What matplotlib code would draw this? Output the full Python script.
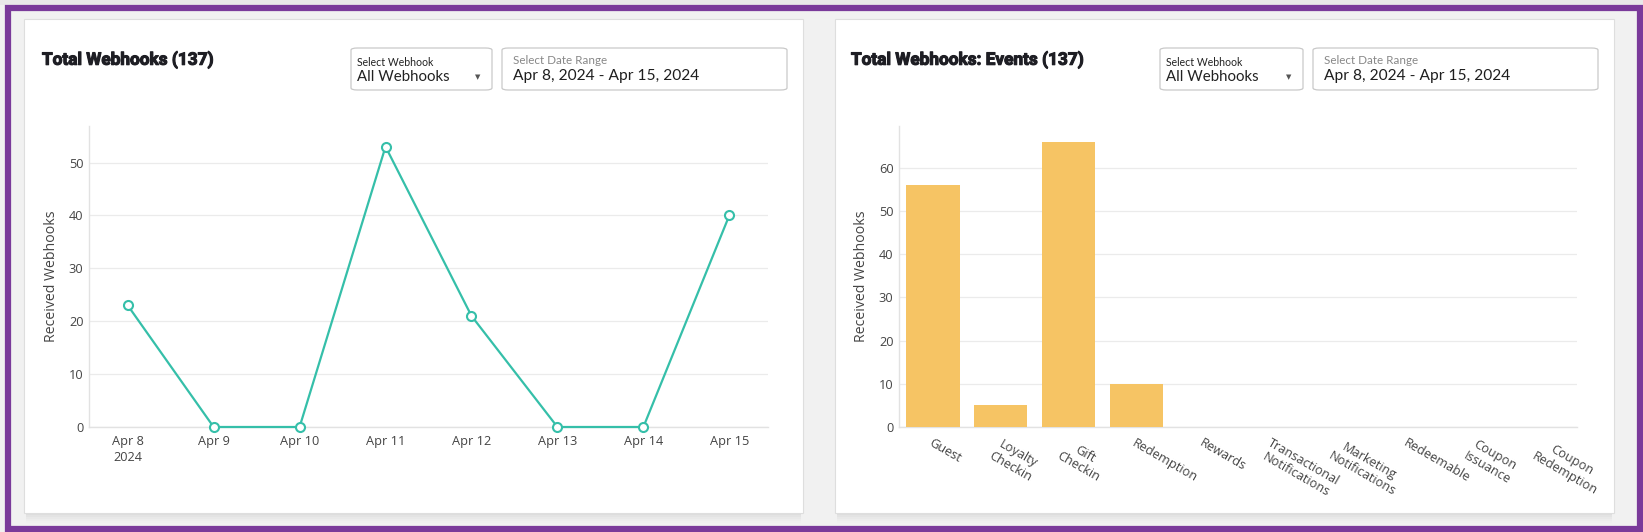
import matplotlib
matplotlib.use("Agg")
import matplotlib.pyplot as plt
import matplotlib.patheffects as pe
from matplotlib.patches import FancyBboxPatch, Rectangle

# ---------------- data ----------------
line_dates = ["Apr 8\n2024", "Apr 9", "Apr 10", "Apr 11", "Apr 12", "Apr 13", "Apr 14", "Apr 15"]
line_values = [23, 0, 0, 53, 21, 0, 0, 40]

event_categories = ["Guest", "Loyalty\nCheckin", "Gift\nCheckin", "Redemption", "Rewards",
                    "Transactional\nNotifications", "Marketing\nNotifications", "Redeemable",
                    "Coupon\nIssuance", "Coupon\nRedemption"]
event_values = [56, 5, 66, 10, 0, 0, 0, 0, 0, 0]

left_title = "Total Webhooks (137)"
right_title = "Total Webhooks: Events (137)"
y_label = "Received Webhooks"
select_label = "Select Webhook"
select_value = "All Webhooks"
date_label = "Select Date Range"
date_value = "Apr 8, 2024 - Apr 15, 2024"

# ---------------- style ----------------
W, H = 1643, 532
LINE_C = "#35bfa9"
BAR_C = "#f6c464"
PURPLE = "#7a3a9a"
BG = "#f1f1f1"
GRID = "#ebebeb"
AXLINE = "#e2e2e2"
TXT = "#444444"
FONT = ["Open Sans", "DejaVu Sans"]
UI_FONT = ["Lato", "DejaVu Sans"]

plt.rcParams["font.family"] = FONT

fig = plt.figure(figsize=(W / 100, H / 100), dpi=100)
fig.patch.set_facecolor(BG)


def fx(x):
    return x / W


def fy(y):
    return 1 - y / H


def rect(x0, y0, x1, y1):
    return [fx(x0), fy(y1), fx(x1) - fx(x0), fy(y0) - fy(y1)]


# top gray strip above purple frame
fig.patches.append(Rectangle((0, fy(5)), 1, 1 - fy(5), transform=fig.transFigure,
                             facecolor="#e9e9e9", edgecolor="none", zorder=0))
# purple frame
fig.patches.append(Rectangle((fx(8), fy(529)), fx(1632), fy(8) - fy(529),
                             transform=fig.transFigure, facecolor="none",
                             edgecolor=PURPLE, linewidth=4.5, zorder=10))


def card(x0, y0, x1, y1):
    # soft shadow
    for i, a in enumerate([0.025, 0.02, 0.016, 0.012, 0.008]):
        off = 2 + i * 2
        fig.patches.append(FancyBboxPatch((fx(x0 + 2), fy(y1 + off)),
                                          fx(x1 - x0 - 4), fy(y0 + off) - fy(y1 + off),
                                          boxstyle="square,pad=0", transform=fig.transFigure,
                                          facecolor="black", alpha=a, edgecolor="none", zorder=1))
    fig.patches.append(FancyBboxPatch((fx(x0), fy(y1)), fx(x1 - x0), fy(y0) - fy(y1),
                                      boxstyle="square,pad=0", transform=fig.transFigure,
                                      facecolor="white", edgecolor="#dedede", linewidth=0.8, zorder=2))


def box(x0, y0, x1, y1):
    fig.patches.append(FancyBboxPatch((fx(x0), fy(y1)), fx(x1 - x0), fy(y0) - fy(y1),
                                      boxstyle="round,pad=0,rounding_size=0.004",
                                      transform=fig.transFigure, facecolor="white",
                                      edgecolor="#c9c9c9", linewidth=0.9, zorder=3))


def header(cx, title, sel_x0, sel_x1, date_x0, date_x1):
    t = fig.text(fx(cx), fy(60), title, fontsize=12.4, fontweight="bold", color="#1e1e24",
                 va="center", ha="left", family=["Roboto", "DejaVu Sans"], zorder=5)
    t.set_path_effects([pe.withStroke(linewidth=0.8, foreground="#1e1e24")])
    box(sel_x0, 48, sel_x1, 90)
    fig.text(fx(sel_x0 + 6), fy(62), select_label, fontsize=7.6, color="#222222",
             va="center", ha="left", family=UI_FONT, zorder=5)
    fig.text(fx(sel_x0 + 6), fy(77), select_value, fontsize=10.8, color="#222222",
             va="center", ha="left", family=UI_FONT, zorder=5)
    fig.text(fx(sel_x1 - 14), fy(77), "\u25BC", fontsize=5, color="#555555",
             va="center", ha="center", family=["DejaVu Sans"], zorder=5)
    box(date_x0, 48, date_x1, 90)
    fig.text(fx(date_x0 + 11), fy(61), date_label, fontsize=8.4, color="#888888",
             va="center", ha="left", family=UI_FONT, zorder=5)
    fig.text(fx(date_x0 + 11), fy(76), date_value, fontsize=11.2, color="#1e1e1e",
             va="center", ha="left", family=UI_FONT, zorder=5)


card(24, 19, 803, 513)
card(835, 19, 1614, 513)
header(42, left_title, 351, 492, 502, 787)
header(851, right_title, 1160, 1303, 1313, 1598)


def style_axes(ax):
    ax.set_facecolor("white")
    for s in ["top", "right"]:
        ax.spines[s].set_visible(False)
    for s in ["left", "bottom"]:
        ax.spines[s].set_color(AXLINE)
        ax.spines[s].set_linewidth(1.0)
    ax.grid(axis="y", color=GRID, linewidth=0.9)
    ax.set_axisbelow(True)
    ax.tick_params(axis="both", length=0, labelsize=9.2, labelcolor=TXT, pad=4)
    ax.set_ylabel(y_label, fontsize=10.2, color=TXT, labelpad=7)


# ---------------- left line chart ----------------
axL = fig.add_axes(rect(89, 126, 768, 427), zorder=4)
style_axes(axL)
xs = list(range(len(line_dates)))
axL.plot(xs, line_values, color=LINE_C, linewidth=1.6, marker="o", markersize=6.5,
         markerfacecolor="white", markeredgecolor=LINE_C, markeredgewidth=1.5,
         clip_on=False, zorder=3)
axL.set_xlim(-0.45, len(line_dates) - 1 + 0.45)
axL.set_ylim(0, 56.9)
axL.set_yticks([0, 10, 20, 30, 40, 50])
axL.set_xticks(xs)
axL.set_xticklabels(line_dates, fontsize=9.2, color=TXT, linespacing=1.25)
axL.tick_params(axis="x", pad=6)

# ---------------- right bar chart ----------------
axR = fig.add_axes(rect(899, 126, 1577, 427), zorder=4)
style_axes(axR)
bx = list(range(len(event_categories)))
axR.bar(bx, event_values, width=0.79, color=BAR_C, edgecolor="none", zorder=3)
axR.set_xlim(-0.5, len(event_categories) - 0.5)
axR.set_ylim(0, 69.7)
axR.set_yticks([0, 10, 20, 30, 40, 50, 60])
axR.set_xticks(bx)
axR.set_xticklabels(event_categories, rotation=-30, ha="left", va="top",
                    rotation_mode="anchor", multialignment="center",
                    fontsize=9.2, color=TXT, linespacing=1.15)
axR.tick_params(axis="x", pad=7)

fig.savefig("out.png", dpi=100, facecolor=fig.get_facecolor())
